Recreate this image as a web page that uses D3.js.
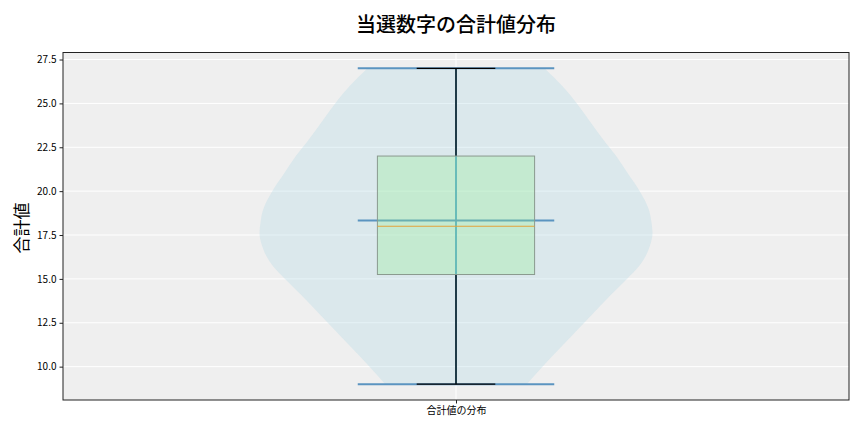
<!DOCTYPE html>
<html><head><meta charset="utf-8">
<script src="https://cdn.jsdelivr.net/npm/d3@7"></script>
<style>body{margin:0;background:#fff;}svg{display:block;font-family:"Noto Sans CJK JP","Noto Sans",sans-serif;}</style>
</head><body><svg id="c" width="864" height="432"></svg>
<script>
const categories = ["合計値の分布"];
const violinValues  = [9, 10, 11, 12, 13, 14, 15, 15.7, 16.3, 17, 17.6, 18.2, 19, 20, 21, 22, 23, 24, 25, 26, 27];
const violinDensity = [0.36, 0.44, 0.525, 0.61, 0.695, 0.78, 0.87, 0.93, 0.965, 0.99, 1.0, 0.995, 0.98, 0.935, 0.875, 0.815, 0.745, 0.68, 0.615, 0.54, 0.45];
const statMin = [9], statQ1 = [15.25], statMedian = [18], statMean = [18.33], statQ3 = [22], statMax = [27];
const yTicks = [10.0, 12.5, 15.0, 17.5, 20.0, 22.5, 25.0, 27.5];

const svg = d3.select("#c");
const L = 63, R = 849, T = 52.5, B = 400;
const x = d3.scaleLinear().domain([0.5, 1.5]).range([L, R]);
const y = d3.scaleLinear().domain([8.1, 27.9]).range([B, T]);

svg.append("rect").attr("x", L).attr("y", T).attr("width", R - L).attr("height", B - T).attr("fill", "#efefef");

// grid
const g = svg.append("g");
yTicks.forEach(t => g.append("line").attr("x1", L).attr("x2", R).attr("y1", y(t)).attr("y2", y(t)).attr("stroke", "#fff").attr("stroke-width", 1));
g.append("line").attr("x1", x(1)).attr("x2", x(1)).attr("y1", T).attr("y2", B).attr("stroke", "#fff").attr("stroke-width", 1);

const pos = 1, vw = 0.25, bw = 0.1, cw = 0.05, lw = 0.125;
const pts = violinValues.map((v, i) => ({v, d: violinDensity[i]}));
const area = d3.area().curve(d3.curveMonotoneY)
  .y(p => y(p.v)).x0(p => x(pos - vw * p.d)).x1(p => x(pos + vw * p.d));
svg.append("path").datum(pts).attr("d", area).attr("fill", "#add8e6").attr("fill-opacity", 0.3);

const blue = "#5b94c0";
// violin lines
svg.append("line").attr("x1", x(pos)).attr("x2", x(pos)).attr("y1", y(statMin[0])).attr("y2", y(statMax[0])).attr("stroke", "#5aa6cc").attr("stroke-width", 2);
[statMin[0], statMax[0], statMean[0]].forEach(v =>
  svg.append("line").attr("x1", x(pos - lw)).attr("x2", x(pos + lw)).attr("y1", y(v)).attr("y2", y(v)).attr("stroke", blue).attr("stroke-width", 2));

// whiskers
const k = "#000";
svg.append("line").attr("x1", x(pos)).attr("x2", x(pos)).attr("y1", y(statQ3[0])).attr("y2", y(statMax[0])).attr("stroke", k).attr("stroke-width", 1.3);
svg.append("line").attr("x1", x(pos)).attr("x2", x(pos)).attr("y1", y(statQ1[0])).attr("y2", y(statMin[0])).attr("stroke", k).attr("stroke-width", 1.3);
[statMin[0], statMax[0]].forEach(v =>
  svg.append("line").attr("x1", x(pos - cw)).attr("x2", x(pos + cw)).attr("y1", y(v)).attr("y2", y(v)).attr("stroke", k).attr("stroke-width", 1.3));

// box
svg.append("rect").attr("x", x(pos - bw)).attr("y", y(statQ3[0])).attr("width", x(pos + bw) - x(pos - bw)).attr("height", y(statQ1[0]) - y(statQ3[0]))
  .attr("fill", "#90ee90").attr("fill-opacity", 0.3).attr("stroke", "#8a9a8e").attr("stroke-width", 1);
svg.append("line").attr("x1", x(pos - bw)).attr("x2", x(pos + bw)).attr("y1", y(statMedian[0])).attr("y2", y(statMedian[0])).attr("stroke", "#e3a23a").attr("stroke-width", 1.2);

// axes frame
svg.append("rect").attr("x", L).attr("y", T).attr("width", R - L).attr("height", B - T).attr("fill", "none").attr("stroke", "#222").attr("stroke-width", 1);

const yAxis = svg.append("g").attr("transform", `translate(${L},0)`)
  .call(d3.axisLeft(y).tickValues(yTicks).tickFormat(d3.format(".1f")).tickSize(3.5).tickPadding(3));
yAxis.select(".domain").remove();
yAxis.selectAll("text").attr("font-size", 10).attr("fill", "#000").attr("font-family", "Noto Sans CJK JP");
yAxis.selectAll("line").attr("stroke", "#222");

const xs = d3.scalePoint().domain(categories).range([x(1), x(1)]);
const xAxis = svg.append("g").attr("transform", `translate(0,${B})`)
  .call(d3.axisBottom(xs).tickSize(3.5).tickPadding(3));
xAxis.select(".domain").remove();
xAxis.selectAll("text").attr("font-size", 10).attr("fill", "#000").attr("font-family", "Noto Sans CJK JP");
xAxis.selectAll("line").attr("stroke", "#222");

svg.append("text").attr("x", 456).attr("y", 32).attr("text-anchor", "middle").attr("font-size", 20).attr("font-weight", 500).attr("fill", "#000").text("当選数字の合計値分布");
svg.append("text").attr("transform", `translate(27.5,228) rotate(-90)`).attr("text-anchor", "middle").attr("font-size", 17).attr("fill", "#000").text("合計値");
</script></body></html>
